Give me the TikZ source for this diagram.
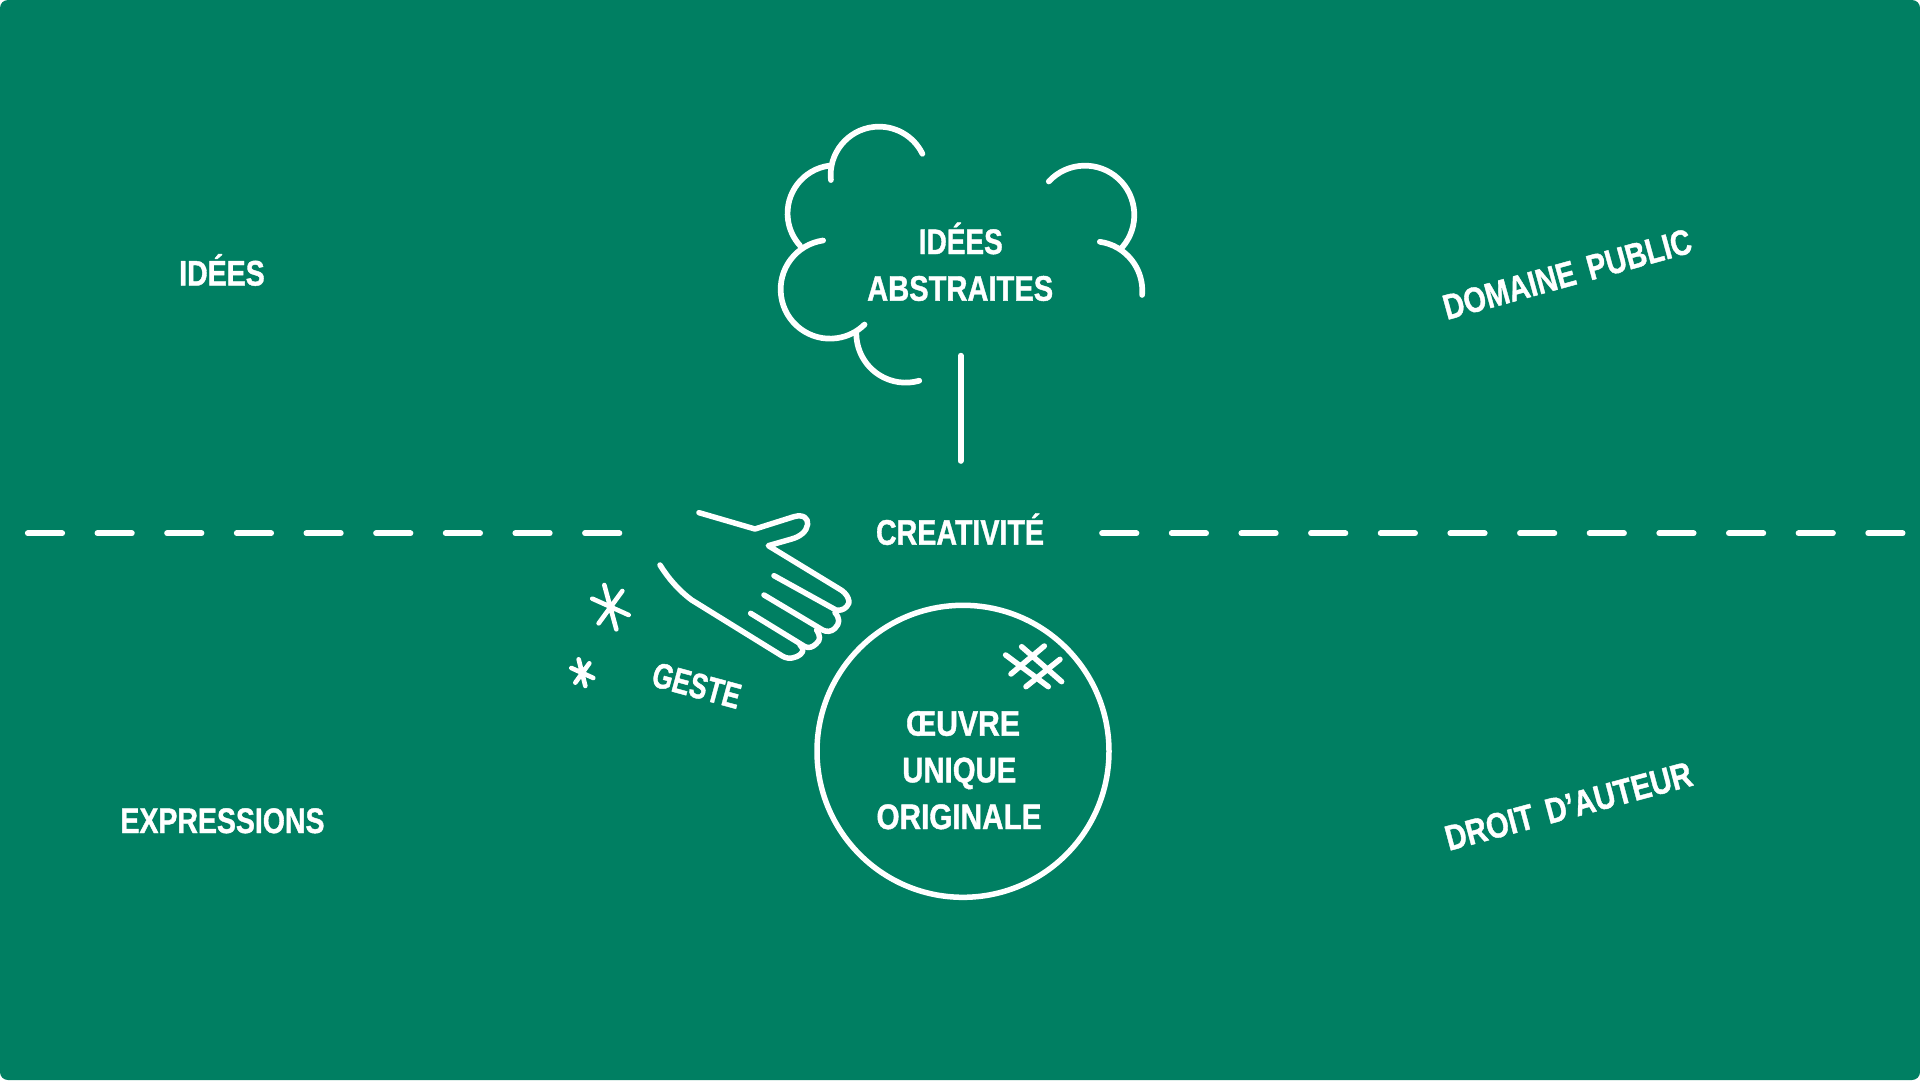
\documentclass[tikz,border=0pt]{standalone}
\usepackage{graphicx}
\usepackage{fontspec}
\setmainfont{Liberation Sans}[BoldFeatures={FakeBold=1.2}]
\definecolor{bggreen}{HTML}{007F62}
\newcommand{\fitw}[2]{\resizebox{#1pt}{\height}{\fontsize{35.5}{36}\selectfont\bfseries #2}}
\tikzset{
  ink/.style={draw=white,line width=5.7pt,line cap=round,line join=round},
  fine/.style={draw=white,line width=5.5pt,line cap=round,line join=round},
  dashline/.style={draw=white,line width=5.7pt,line cap=round,dash pattern=on 34.5pt off 35.15pt},
  lbl/.style={text=white,inner sep=0pt,anchor=base}
}
\begin{document}
\begin{tikzpicture}[x=1pt,y=-1pt]
\useasboundingbox (0,0) rectangle (1920,1080);
\fill[white] (0,0) rectangle (1920,1080);
\fill[bggreen,rounded corners=8pt] (0,0) rectangle (1920,1080);
% dashed lines
\coordinate (dl1) at (27.75,533.3);
\coordinate (dl2) at (622,533.3);
\coordinate (dr1) at (1102,533.3);
\coordinate (dr2) at (1908,533.3);
\draw[dashline] (dl1) -- (dl2);
\draw[dashline] (dr1) -- (dr2);
% cloud (coordinates of a 3x crop)
\begin{scope}[shift={(740,100)},x=0.3333pt,y=-0.3333pt]
\draw[ink] (417,225) ++(174:145) arc[start angle=174,end angle=334,radius=145];
\draw[ink] (287,340) ++(262.4:144.3) arc[start angle=262.4,end angle=137.5,radius=144.3];
\draw[ink] (270,568) ++(262:148) arc[start angle=262,end angle=45.5,radius=148];
\draw[ink] (497,700) ++(182:148) arc[start angle=182,end angle=74,radius=148];
\draw[ink] (1035,345) ++(222.8:148) arc[start angle=222.8,end angle=400.8,radius=148];
\draw[ink] (1059,572) ++(278:148) arc[start angle=278,end angle=365,radius=148];
\coordinate (t1) at (662,767);
\coordinate (t2) at (662,1083);
\draw[ink] (t1) -- (t2);
\end{scope}
% hand and stars
\begin{scope}[shift={(540,490)},x=0.3333pt,y=-0.3333pt]
\draw[fine] (477,68) -- (645,117) -- (762,80) .. controls (790,72) and (805,85) .. (803,103) .. controls (800,125) and (780,140) .. (755,147) -- (685,167) -- (895,295) .. controls (925,310) and (935,340) .. (920,350) .. controls (910,360) and (900,362) .. (888,360) -- (702,257);
\draw[fine] (885,368) .. controls (900,385) and (900,400) .. (885,415) .. controls (875,425) and (860,427) .. (848,420) -- (672,315);
\draw[fine] (830,420) .. controls (842,440) and (842,450) .. (828,462) .. controls (818,472) and (805,475) .. (795,470) -- (632,370);
\draw[fine] (780,465) .. controls (795,480) and (790,490) .. (770,500) .. controls (750,508) and (738,505) .. (725,497) -- (455,330) .. controls (415,300) and (385,265) .. (360,225);
\draw[fine,line width=4.6pt] (193,285) -- (229,418) (157,326) -- (266,375) (247,303) -- (176,400);
\draw[fine,line width=4.6pt] (116,508) -- (136,588) (94,534) -- (160,564) (148,520) -- (106,578);
\end{scope}
% circle
\node[circle,draw=white,line width=5.5pt,minimum size=292pt,inner sep=0pt] (work) at (963,751.3) {};
\begin{scope}[shift={(800,590)},x=0.3333pt,y=-0.3333pt]
\draw[fine] (617,195) -- (745,290) (665,170) -- (785,275) (633,252) -- (733,168) (678,290) -- (780,208);
\end{scope}
% labels
\node[lbl] (n1) at (222,285.5) {\fitw{85.5}{IDÉES}};
\node[lbl] (n2) at (222.5,833) {\fitw{204}{EXPRESSIONS}};
\node[lbl] (n3) at (960.8,254) {\fitw{84}{IDÉES}};
\node[lbl] (n4) at (960.2,300.7) {\fitw{186}{ABSTRAITES}};
\node[lbl] (n5) at (960,544.7) {\fitw{168}{CREATIVITÉ}};
\node[lbl] (n6) at (963,735.7) {\fitw{114}{ŒUVRE}};
\node[lbl] (n7) at (959.3,782.3) {\fitw{114}{UNIQUE}};
\node[lbl] (n8) at (959,829) {\fitw{165}{ORIGINALE}};
\node[lbl,rotate=-15.2] (n9) at (693.5,697.3) {\fitw{90}{GESTE}};
\node[lbl,rotate=15.4] (n10) at (1570.5,286) {\fitw{256}{DOMAINE\hspace{0.45em}PUBLIC}};
\node[lbl,rotate=15] (n11) at (1571.7,818) {\fitw{254}{DROIT\hspace{0.45em}D’AUTEUR}};
\end{tikzpicture}
\end{document}
